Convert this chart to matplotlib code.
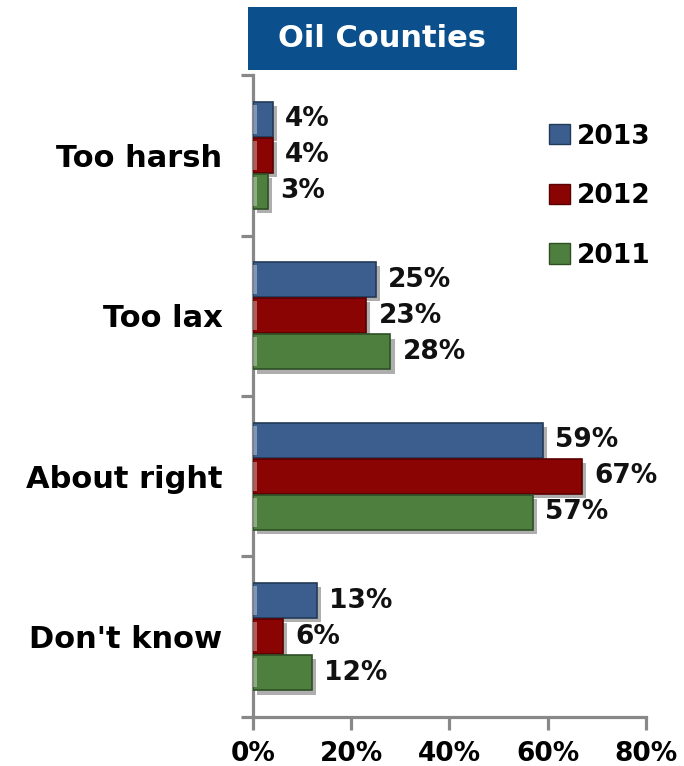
import numpy as np
import matplotlib.pyplot as plt
import matplotlib.patheffects as pe
from matplotlib.patches import Rectangle, Patch

categories = ["Too harsh", "Too lax", "About right", "Don't know"]
years = ["2013", "2012", "2011"]
v2013 = [4, 25, 59, 13]
v2012 = [4, 23, 67, 6]
v2011 = [3, 28, 57, 12]
colors = ["#3b5e8e", "#8a0404", "#4f7f3f"]
edges = ["#233a58", "#5a0000", "#2e4f24"]
xticks = [0, 20, 40, 60, 80]

fig = plt.figure(figsize=(6.84, 7.66), dpi=100)
ax = fig.add_axes([0.370, 0.064, 0.574, 0.838])

y = np.arange(len(categories))
h = 0.225
shadow = [pe.SimplePatchShadow(offset=(3, -3), shadow_rgbFace="#9a9a9a", alpha=0.8), pe.Normal()]
for i, (vals, c, ec) in enumerate(zip([v2013, v2012, v2011], colors, edges)):
    pos = y + (i - 1) * h
    bars = ax.barh(pos, vals, height=h * 0.97, color=c, edgecolor=ec, linewidth=1.2, zorder=3)
    for b in bars:
        b.set_path_effects(shadow)
    # light strip on the left end
    ax.barh(pos, [0.8] * len(vals), height=h * 0.8, color="white", alpha=0.35, linewidth=0, zorder=4)
    ax.bar_label(bars, labels=[f"{v}%" for v in vals], padding=9,
                 fontsize=19, fontweight="bold", color="#111111")

ax.set_xlim(0, 80)
ax.set_ylim(3.5, -0.5)
ax.set_xticks(xticks)
ax.set_xticklabels([f"{t}%" for t in xticks], fontsize=19, fontweight="bold")
ax.set_yticks(np.arange(-0.5, 4, 1))
ax.set_yticklabels([])
ax.set_yticks(y, minor=True)
ax.set_yticklabels(categories, minor=True, fontsize=22, fontweight="bold")
ax.tick_params(axis="y", which="minor", length=0, pad=22)
ax.tick_params(axis="y", which="major", length=9, width=2.3, color="#888888")
ax.tick_params(axis="x", length=9.5, width=2.3, color="#888888", pad=8)
for s in ["top", "right"]:
    ax.spines[s].set_visible(False)
for s in ["left", "bottom"]:
    ax.spines[s].set_color("#888888")
    ax.spines[s].set_linewidth(2.3)

handles = [Patch(facecolor=c, edgecolor=ec) for c, ec in zip(colors, edges)]
ax.legend(handles, years, loc="upper left", bbox_to_anchor=(0.72, 0.945), frameon=False,
          prop={"size": 19, "weight": "bold"}, handlelength=0.8, handleheight=0.8,
          handletextpad=0.25, labelspacing=1.27, borderpad=0)

fig.patches.append(Rectangle((0.3626, 0.9086), 0.393, 0.0822, transform=fig.transFigure,
                             facecolor="#0b4f8c", edgecolor="none"))
fig.text(0.559, 0.9497, "Oil Counties", color="white", fontsize=22, fontweight="bold",
         ha="center", va="center")

fig.savefig("out.png", dpi=100)
